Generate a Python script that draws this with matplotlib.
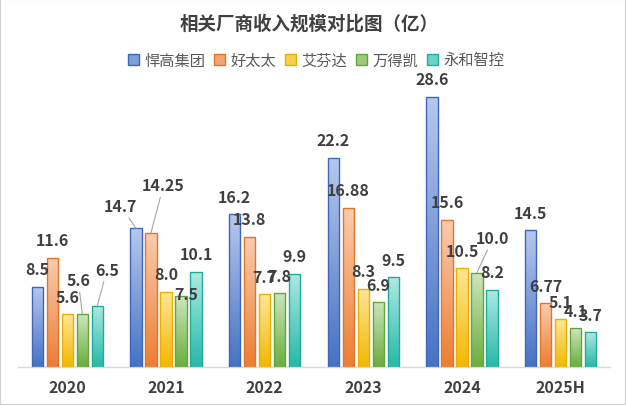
import numpy as np
import matplotlib
matplotlib.use("Agg")
import matplotlib.pyplot as plt
from matplotlib.colors import LinearSegmentedColormap
from matplotlib.patches import Patch, Rectangle

plt.rcParams['font.family'] = ['Noto Sans CJK SC', 'DejaVu Sans']

# data
years = ['2020', '2021', '2022', '2023', '2024', '2025H']
companies = ['悍高集团', '好太太', '艾芬达', '万得凯', '永和智控']
hangao = [8.5, 14.7, 16.2, 22.2, 28.6, 14.5]
haotaitai = [11.6, 14.25, 13.8, 16.88, 15.6, 6.77]
aifenda = [5.6, 8.0, 7.7, 8.3, 10.5, 5.1]
wandekai = [5.6, 7.5, 7.8, 6.9, 10.0, 4.1]
yonghe = [6.5, 10.1, 9.9, 9.5, 8.2, 3.7]
labels = [
    ['8.5', '14.7', '16.2', '22.2', '28.6', '14.5'],
    ['11.6', '14.25', '13.8', '16.88', '15.6', '6.77'],
    ['5.6', '8.0', '7.7', '8.3', '10.5', '5.1'],
    ['5.6', '7.5', '7.8', '6.9', '10.0', '4.1'],
    ['6.5', '10.1', '9.9', '9.5', '8.2', '3.7'],
]
series = [hangao, haotaitai, aifenda, wandekai, yonghe]

# (light top, dark bottom, edge) per series
colors = [
    ('#b8c8ee', '#4472c4', '#3f66b8'),
    ('#f9cdb0', '#ed7d31', '#e0752c'),
    ('#ffe69a', '#f2b800', '#e8b000'),
    ('#cde6bd', '#6aad3d', '#62a53a'),
    ('#aeeae2', '#26b8a8', '#22ab9b'),
]

# label offsets in points (series, year): (dx, dy, leader line)
label_adjust = {
    (3, 0): (-3, 24.5, True),
    (4, 0): (7, 26, True),
    (0, 1): (-11, 16, True),
    (1, 1): (9, 34, True),
    (3, 1): (3.5, 1.5, False),
    (3, 4): (11.5, 25, True),
    (0, 4): (0, 13, False),
}

text_col = '#404040'

fig = plt.figure(figsize=(6.26, 4.06), dpi=100)
ax = fig.add_axes([18 / 626, (406 - 368) / 406, 592 / 626, 283 / 406])

x = np.arange(len(years))
step = 0.152
width = 0.112
grad = np.linspace(1, 0, 256).reshape(-1, 1)

for i, vals in enumerate(series):
    pos = x + (i - 2) * step
    cmap = LinearSegmentedColormap.from_list('c%d' % i, [colors[i][1], colors[i][0]])
    bars = ax.bar(pos, vals, width, facecolor='none', edgecolor=colors[i][2],
                  linewidth=1, zorder=3)
    for p in bars:
        x0 = p.get_x()
        h = p.get_height()
        im = ax.imshow(grad, extent=(x0, x0 + p.get_width(), 0, h), aspect='auto',
                       cmap=cmap, vmin=0, vmax=1, zorder=2, interpolation='bilinear')
        im.set_clip_path(p)
    for j, v in enumerate(vals):
        dx, dy, leader = label_adjust.get((i, j), (0, 12.5, False))
        kw = {}
        if leader:
            kw['arrowprops'] = dict(arrowstyle='-', color='#a6a6a6', lw=0.8,
                                    shrinkA=1, shrinkB=0)
        ax.annotate(labels[i][j], xy=(pos[j], v), xytext=(dx, dy),
                    textcoords='offset points', ha='center', va='center',
                    fontsize=11.5, fontweight='bold', color=text_col, zorder=5, **kw)

ax.set_xlim(-0.5, len(years) - 0.5)
ax.set_ylim(0, 30)
ax.set_xticks(x)
ax.set_xticklabels(years, fontsize=11.5, fontweight='bold', color=text_col)
ax.tick_params(axis='x', length=0, pad=9)
ax.set_yticks([])
for s in ['top', 'right', 'left']:
    ax.spines[s].set_visible(False)
ax.spines['bottom'].set_color('#d9d9d9')
ax.spines['bottom'].set_linewidth(1)

fig.text(0.493, 1 - 24 / 406, '相关厂商收入规模对比图（亿）', ha='center', va='center',
         fontsize=13.3, fontweight='bold', color=text_col)

# legend swatches in the middle tone of each gradient
mid = [LinearSegmentedColormap.from_list('m', [c[1], c[0]])(0.5) for c in colors]
handles = [Patch(facecolor=m, edgecolor=c[2], linewidth=1) for m, c in zip(mid, colors)]
fig.legend(handles, companies, loc='center', bbox_to_anchor=(0.505, 1 - 61 / 406),
           ncol=5, frameon=False, fontsize=11, labelcolor='#595959',
           handlelength=0.7, handleheight=0.7, handletextpad=0.35,
           columnspacing=0.6, borderaxespad=0)

fig.patches.append(Rectangle((0, 0), 1, 1, transform=fig.transFigure,
                             fill=False, edgecolor='#d0d0d0', linewidth=1.5))

fig.savefig('out.png', dpi=100)
